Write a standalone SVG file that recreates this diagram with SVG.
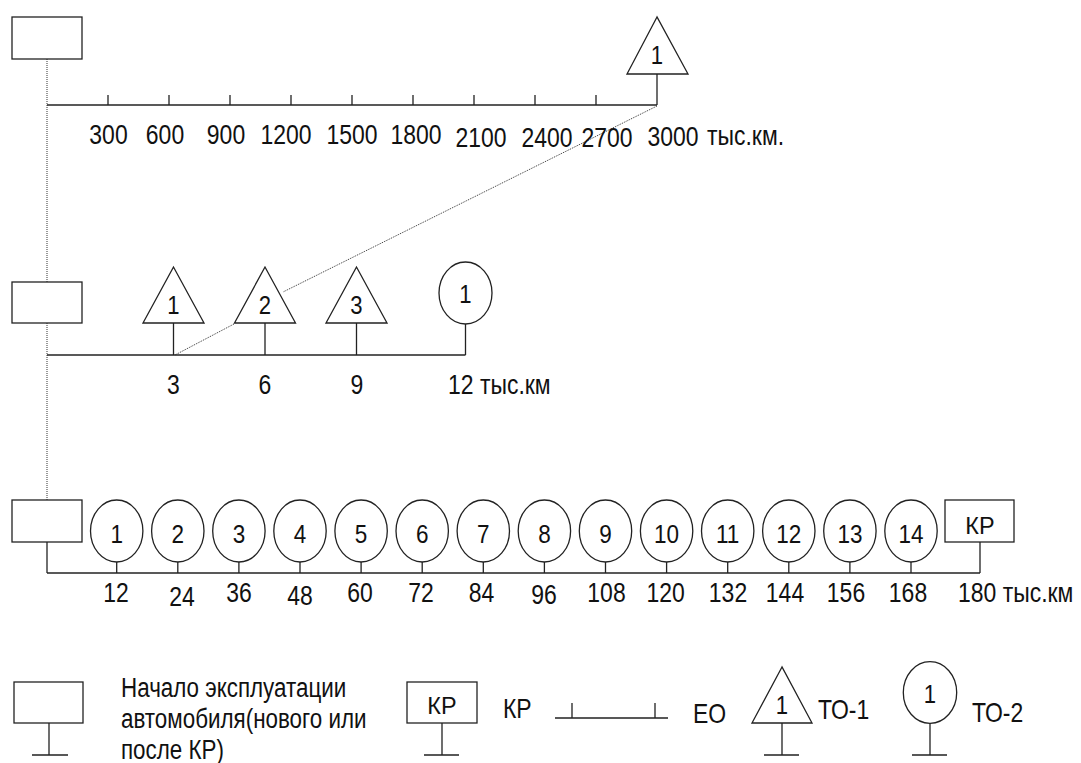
<svg xmlns="http://www.w3.org/2000/svg" width="1081" height="763" viewBox="0 0 1081 763">
<style>
.ln{stroke:#222;stroke-width:1.3;fill:none}
.sh{stroke:#222;stroke-width:1.3;fill:#fff}
.dt{stroke:#333;stroke-width:1;stroke-dasharray:1 1;fill:none}
text{font-family:"Liberation Sans",Arial,sans-serif;fill:#111}
.l{font-size:28px}
.m{text-anchor:middle}
.d{font-size:25px;text-anchor:middle}
.k{font-size:23px;text-anchor:middle}
</style>
<rect width="1081" height="763" fill="#fff"/>
<g id="connectors">
<line class="dt" x1="47" y1="59" x2="47" y2="500"/>
<polyline class="dt" points="657,106 283,292"/>
<polyline class="dt" points="234,324 175,355"/>
<line class="ln" x1="47" y1="105" x2="657" y2="105"/>
<path class="ln" d="M108 95V105M169 95V105M230 95V105M291 95V105M352 95V105M413 95V105M474 95V105M535 95V105M596 95V105M657 74V105"/>
<line class="ln" x1="47" y1="355" x2="465.5" y2="355"/>
<path class="ln" d="M173.5 323V355M265 323V355M356.5 323V355M465.5 324V355"/>
<line class="ln" x1="47" y1="542" x2="47" y2="573"/>
<line class="ln" x1="47" y1="573" x2="980" y2="573"/>
<path class="ln" d="M116.7 562V573M177.8 562V573M238.9 562V573M300 562V573M361.1 562V573M422.2 562V573M483.3 562V573M544.4 562V573M605.5 562V573M666.6 562V573M727.7 562V573M788.8 562V573M849.9 562V573M911 562V573M980 542V573"/>
</g>
<g id="start-top"><rect class="sh" x="12" y="17" width="70" height="42"/></g>
<g id="to1-top"><polygon class="sh" points="657,17 627,74 688,74"/><text class="m" font-size="26" transform="translate(657,64) scale(0.85,1)">1</text></g>
<g id="scale-top">
<text class="l m" transform="translate(108.5,144) scale(0.82,1)">300</text>
<text class="l m" transform="translate(165,144) scale(0.82,1)">600</text>
<text class="l m" transform="translate(226,144) scale(0.82,1)">900</text>
<text class="l m" transform="translate(286,144) scale(0.82,1)">1200</text>
<text class="l m" transform="translate(352,144) scale(0.82,1)">1500</text>
<text class="l m" transform="translate(416,144) scale(0.82,1)">1800</text>
<text class="l m" transform="translate(481,147) scale(0.82,1)">2100</text>
<text class="l m" transform="translate(547,147) scale(0.82,1)">2400</text>
<text class="l m" transform="translate(607,147) scale(0.82,1)">2700</text>
<text class="l m" transform="translate(673,146) scale(0.82,1)">3000</text>
<text class="l" transform="translate(707,145) scale(0.82,1)">тыс.км.</text>
</g>
<g id="start-mid"><rect class="sh" x="12" y="282" width="70" height="41"/></g>
<g id="to1-1"><polygon class="sh" points="173.5,267 143,323 204,323"/><text class="m" font-size="26" transform="translate(173.5,314) scale(0.85,1)">1</text></g>
<g id="to1-2"><polygon class="sh" points="265,267 234.5,323 295.5,323"/><text class="m" font-size="26" transform="translate(265,314) scale(0.85,1)">2</text></g>
<g id="to1-3"><polygon class="sh" points="356.5,267 326,323 387,323"/><text class="m" font-size="26" transform="translate(356.5,314) scale(0.85,1)">3</text></g>
<g id="to2-mid"><ellipse class="sh" cx="465.5" cy="293" rx="26.5" ry="31"/><text class="m" font-size="26" transform="translate(465.5,303) scale(0.85,1)">1</text></g>
<g id="scale-mid">
<text class="l m" transform="translate(173.5,394) scale(0.82,1)">3</text>
<text class="l m" transform="translate(265,394) scale(0.82,1)">6</text>
<text class="l m" transform="translate(357,394) scale(0.82,1)">9</text>
<text class="l" transform="translate(448,394) scale(0.82,1)">12 тыс.км</text>
</g>
<g id="start-bot"><rect class="sh" x="12" y="500" width="70" height="42"/></g>
<g id="to2-row">
<ellipse class="sh" cx="116.7" cy="531" rx="26.2" ry="31"/><text class="d" transform="translate(116.7,543) scale(0.9,1)">1</text>
<ellipse class="sh" cx="177.8" cy="531" rx="26.2" ry="31"/><text class="d" transform="translate(177.8,543) scale(0.9,1)">2</text>
<ellipse class="sh" cx="238.9" cy="531" rx="26.2" ry="31"/><text class="d" transform="translate(238.9,543) scale(0.9,1)">3</text>
<ellipse class="sh" cx="300" cy="531" rx="26.2" ry="31"/><text class="d" transform="translate(300,543) scale(0.9,1)">4</text>
<ellipse class="sh" cx="361.1" cy="531" rx="26.2" ry="31"/><text class="d" transform="translate(361.1,543) scale(0.9,1)">5</text>
<ellipse class="sh" cx="422.2" cy="531" rx="26.2" ry="31"/><text class="d" transform="translate(422.2,543) scale(0.9,1)">6</text>
<ellipse class="sh" cx="483.3" cy="531" rx="26.2" ry="31"/><text class="d" transform="translate(483.3,543) scale(0.9,1)">7</text>
<ellipse class="sh" cx="544.4" cy="531" rx="26.2" ry="31"/><text class="d" transform="translate(544.4,543) scale(0.9,1)">8</text>
<ellipse class="sh" cx="605.5" cy="531" rx="26.2" ry="31"/><text class="d" transform="translate(605.5,543) scale(0.9,1)">9</text>
<ellipse class="sh" cx="666.6" cy="531" rx="26.2" ry="31"/><text class="d" transform="translate(666.6,543) scale(0.9,1)">10</text>
<ellipse class="sh" cx="727.7" cy="531" rx="26.2" ry="31"/><text class="d" transform="translate(727.7,543) scale(0.9,1)">11</text>
<ellipse class="sh" cx="788.8" cy="531" rx="26.2" ry="31"/><text class="d" transform="translate(788.8,543) scale(0.9,1)">12</text>
<ellipse class="sh" cx="849.9" cy="531" rx="26.2" ry="31"/><text class="d" transform="translate(849.9,543) scale(0.9,1)">13</text>
<ellipse class="sh" cx="911" cy="531" rx="26.2" ry="31"/><text class="d" transform="translate(911,543) scale(0.9,1)">14</text>
</g>
<g id="kr-bot"><rect class="sh" x="945" y="500" width="69" height="42"/><text class="k" transform="translate(980,534) scale(1.02,1)">КР</text></g>
<g id="scale-bot">
<text class="l m" transform="translate(116,602) scale(0.82,1)">12</text>
<text class="l m" transform="translate(182,606) scale(0.82,1)">24</text>
<text class="l m" transform="translate(239,602) scale(0.82,1)">36</text>
<text class="l m" transform="translate(300,605) scale(0.82,1)">48</text>
<text class="l m" transform="translate(360,602) scale(0.82,1)">60</text>
<text class="l m" transform="translate(421,602) scale(0.82,1)">72</text>
<text class="l m" transform="translate(481.5,602) scale(0.82,1)">84</text>
<text class="l m" transform="translate(544,604) scale(0.82,1)">96</text>
<text class="l m" transform="translate(606.5,602) scale(0.82,1)">108</text>
<text class="l m" transform="translate(665.7,602) scale(0.82,1)">120</text>
<text class="l m" transform="translate(728,602) scale(0.82,1)">132</text>
<text class="l m" transform="translate(785,602) scale(0.82,1)">144</text>
<text class="l m" transform="translate(846,602) scale(0.82,1)">156</text>
<text class="l m" transform="translate(908,602) scale(0.82,1)">168</text>
<text class="l" transform="translate(958,602) scale(0.82,1)">180 тыс.км</text>
</g>
<g id="legend-start">
<rect class="sh" x="14" y="682" width="69" height="41"/>
<path class="ln" d="M49 723V755M32 755H68"/>
<text class="l" transform="translate(121,697) scale(0.8,1)">Начало эксплуатации</text>
<text class="l" transform="translate(121,728) scale(0.8,1)">автомобиля(нового или</text>
<text class="l" transform="translate(121,759) scale(0.8,1)">после КР)</text>
</g>
<g id="legend-kr">
<rect class="sh" x="407" y="682" width="70" height="41"/>
<text class="k" transform="translate(442,714) scale(1.02,1)">КР</text>
<path class="ln" d="M442 723V755M424 755H459"/>
<text class="l" transform="translate(503,718) scale(0.82,1)">КР</text>
</g>
<g id="legend-eo">
<path class="ln" d="M555 718H668M572 703V718M655 703V718"/>
<text class="l" transform="translate(693,723) scale(0.82,1)">ЕО</text>
</g>
<g id="legend-to1">
<polygon class="sh" points="782,667 752,723 812,723"/>
<text class="m" font-size="26" transform="translate(782,714) scale(0.85,1)">1</text>
<path class="ln" d="M782 723V755M764 755H799"/>
<text class="l" transform="translate(818,719) scale(0.82,1)">ТО-1</text>
</g>
<g id="legend-to2">
<ellipse class="sh" cx="930" cy="692.5" rx="26.7" ry="30.8"/>
<text class="m" font-size="26" transform="translate(930,703) scale(0.85,1)">1</text>
<path class="ln" d="M930 723V755M912 755H947"/>
<text class="l" transform="translate(972,722) scale(0.82,1)">ТО-2</text>
</g>
</svg>
